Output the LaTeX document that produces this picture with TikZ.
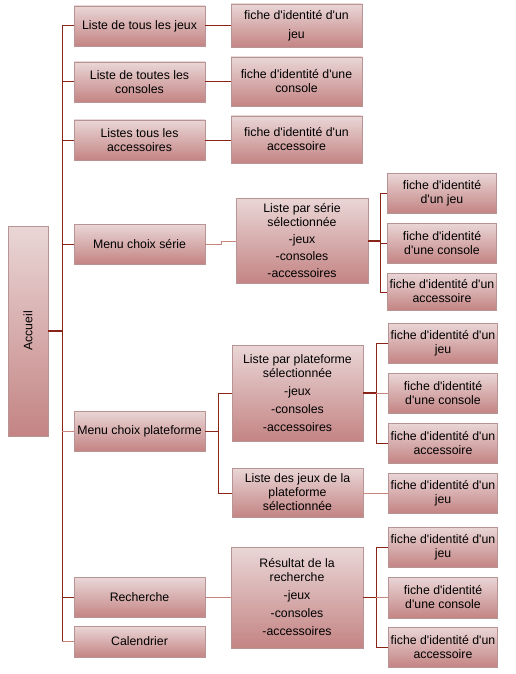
\documentclass[tikz,border=0pt]{standalone}
\usepackage{fontspec}
\setmainfont{Liberation Sans}
\usetikzlibrary{calc}
\definecolor{boxtop}{HTML}{EAD6D6}
\definecolor{boxmid}{HTML}{DEBDBD}
\definecolor{boxbot}{HTML}{C48484}
\definecolor{boxline}{HTML}{B99494}
\definecolor{darkln}{HTML}{8B2418}
\definecolor{lightln}{HTML}{C8857C}
\newcommand{\q}{\textquotesingle}
\begin{document}
\begin{tikzpicture}[x=1pt,y=-1pt,
  boxn/.style={draw=boxline, line width=0.6pt, top color=boxtop, middle color=boxmid, bottom color=boxbot,
    shading angle=0, align=center, inner sep=0pt, font=\fontsize{12.3}{14}\selectfont, text=black},
  lvlone/.style={boxn, minimum width=131pt, minimum height=40pt},
  fichea/.style={boxn, minimum width=131pt, minimum height=44pt},
  ficheb/.style={boxn, minimum width=109pt, minimum height=40pt},
  dk/.style={draw=darkln, line width=1pt},
  lt/.style={draw=lightln, line width=1pt}]
\useasboundingbox (0,0) rectangle (515,674);

% root
\node[boxn, minimum width=40pt, minimum height=210pt] (acc) at (28,331) {\rotatebox{90}{Accueil}};

% level one
\node[lvlone] (l1) at (139.5,26) {Liste de tous les jeux};
\node[lvlone] (l2) at (139.5,82) {Liste de toutes les\\consoles};
\node[lvlone] (l3) at (139.5,140) {Listes tous les\\accessoires};
\node[lvlone] (ms) at (139.5,244) {Menu choix série};
\node[lvlone] (mp) at (139.5,431) {Menu choix plateforme};
\node[lvlone] (re) at (139.5,597.5) {Recherche};
\node[lvlone, minimum height=31pt] (ca) at (139.5,641.5) {Calendrier};

% fiches of first lists
\node[fichea, minimum height=43pt] (f1) at (296.5,25.5) {fiche d\q identité d\q un\\[5pt]jeu};
\node[fichea, minimum height=49pt] (f2) at (296.5,81.5) {fiche d\q identité d\q une\\console};
\node[fichea, minimum height=47pt] (f3) at (296.5,139.5) {fiche d\q identité d\q un\\accessoire};

% serie
\node[boxn, minimum width=132pt, minimum height=85pt] (ls) at (302,240.5)
  {Liste par série\\sélectionnée\\[3pt]-jeux\\[3pt]-consoles\\[3pt]-accessoires};
\node[ficheb] (s1) at (442,193) {fiche d\q identité\\d\q un jeu};
\node[ficheb] (s2) at (442,243) {fiche d\q identité\\d\q une console};
\node[ficheb, minimum height=37pt] (s3) at (442,291.5) {fiche d\q identité d\q un\\accessoire};

% plateforme
\node[boxn, minimum width=131pt, minimum height=96pt] (lp) at (297.5,393)
  {Liste par plateforme\\sélectionnée\\[4pt]-jeux\\[4pt]-consoles\\[4pt]-accessoires};
\node[boxn, minimum width=131pt, minimum height=49pt] (lj) at (297.5,492.5)
  {Liste des jeux de la\\plateforme\\sélectionnée};
\node[ficheb] (p1) at (443,343) {fiche d\q identité d\q un\\jeu};
\node[ficheb] (p2) at (443,393) {fiche d\q identité\\d\q une console};
\node[ficheb] (p3) at (443,443) {fiche d\q identité d\q un\\accessoire};
\node[ficheb] (p4) at (443,493) {fiche d\q identité d\q un\\jeu};

% recherche
\node[boxn, minimum width=132pt, minimum height=101pt] (rr) at (297,597.5)
  {Résultat de la\\recherche\\[4pt]-jeux\\[4pt]-consoles\\[4pt]-accessoires};
\node[ficheb] (r1) at (443,547) {fiche d\q identité d\q un\\jeu};
\node[ficheb, minimum height=41pt] (r2) at (443,597.5) {fiche d\q identité\\d\q une console};
\node[ficheb] (r3) at (443,647) {fiche d\q identité d\q un\\accessoire};

% trunk
\coordinate (tt) at (62,26);
\coordinate (tb) at (62,641);
\draw[dk] (tt) -- (tb);
\draw[dk, line width=1.6pt] (acc.east) -- (62,331);
\draw[dk] (62,26) -- (l1.west);
\draw[dk] (62,82) -- (l2.west);
\draw[dk] (62,140) -- (l3.west);
\draw[dk] (62,244) -- (ms.west);
\draw[lt] (62,431) -- (mp.west);
\draw[dk] (62,597.5) -- (re.west);
\draw[lt] (62,641.5) -- (ca.west);

% first lists to fiches
\draw[dk] (l1.east) -- (f1.west |- l1.east);
\draw[dk] (l2.east) -- (f2.west |- l2.east);
\draw[dk] (l3.east) -- (f3.west |- l3.east);

% serie
\draw[lt] (ms.east) -- (221,244) -- (221,241) -- (ls.west |- 0,241);
\draw[dk, line width=1.6pt] (ls.east |- 0,241) -- (380,241);
\draw[dk] (380,193) -- (380,292);
\draw[dk] (380,193) -- (s1.west);
\draw[dk] (380,243) -- (s2.west);
\draw[dk] (380,292) -- (s3.west |- 0,292);

% plateforme
\draw[dk] (mp.east) -- (218,431);
\draw[dk] (218,393) -- (218,493);
\draw[dk] (218,393) -- (lp.west);
\draw[dk] (218,493) -- (lj.west |- 0,493);
\draw[dk, line width=1.6pt] (lp.east) -- (376,393);
\draw[dk] (376,343) -- (376,443);
\draw[dk] (376,343) -- (p1.west);
\draw[lt] (376,393) -- (p2.west);
\draw[dk] (376,443) -- (p3.west);
\draw[lt] (lj.east |- 0,493) -- (p4.west);

% recherche
\draw[lt] (re.east) -- (rr.west);
\draw[dk, line width=1.6pt] (rr.east) -- (376,597.5);
\draw[dk] (376,547) -- (376,647);
\draw[dk] (376,547) -- (r1.west);
\draw[lt] (376,597.5) -- (r2.west);
\draw[dk] (376,647) -- (r3.west);
\end{tikzpicture}
\end{document}
